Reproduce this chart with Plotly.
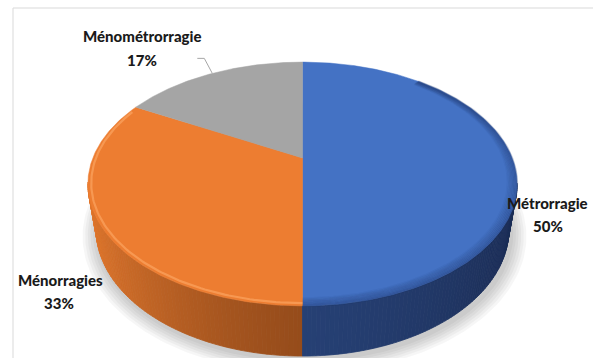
import numpy as np
import plotly.graph_objects as go

# --- data ---------------------------------------------------------------
labels = ["Métrorragie", "Ménorragies", "Ménométrorragie"]
values = [50, 33, 17]
top_colors = ["#4472C4", "#ED7D31", "#A5A5A5"]
# side-wall colours: (front-facing shade, side-facing shade)
side_colors = [((38, 64, 116), (27, 44, 84)),
               ((150, 76, 27), (228, 121, 46)),
               ((120, 120, 120), (150, 150, 150))]

# --- 3-D pie camera ------------------------------------------------------
W, H = 593, 358
TILT = np.radians(33.7)
DIST = 3.904
FOCAL = 818.7
APEX_X, APEX_Y = 302.5, 158.0
THICK = 0.27
S, C = np.sin(TILT), np.cos(TILT)


def project(theta, y=0.0, r=1.0):
    """Project a point of the pie (angle clockwise from 12 o'clock)."""
    X = r * np.sin(theta)
    Z = r * np.cos(theta)
    d = DIST + Z * C - y * S
    return APEX_X + FOCAL * X / d, APEX_Y - FOCAL * (y * C + Z * S) / d


fig = go.Figure()


def add_poly(xs, ys, color, lw=0.8):
    fig.add_trace(go.Scatter(
        x=list(xs), y=list(ys), mode="lines", fill="toself",
        fillcolor=color, line=dict(color=color, width=lw),
        hoverinfo="skip", showlegend=False))


def rgb(c):
    return "rgb(%d,%d,%d)" % tuple(int(round(v)) for v in c)


fractions = np.array(values, dtype=float) / sum(values)
edges = np.concatenate([[0.0], np.cumsum(fractions)]) * 2 * np.pi

# soft drop shadow under the pie
full = np.linspace(0, 2 * np.pi, 241)
for k in range(6):
    sx, sy = project(full, -THICK, 1.0 + 0.012 * (k + 1))
    add_poly(sx + 2, sy + 3, "rgba(0,0,0,0.035)", lw=0)

# side walls, painted back to front
strips = []
for i in range(len(values)):
    a, b = edges[i], edges[i + 1]
    n = max(int(np.degrees(b - a)), 2)
    ts = np.linspace(a, b, n + 1)
    for t0, t1 in zip(ts[:-1], ts[1:]):
        tm = 0.5 * (t0 + t1)
        if np.cos(tm) < -0.2:
            strips.append((np.cos(tm), i, t0, t1, tm))
strips.sort(key=lambda s: -s[0])
for z, i, t0, t1, tm in strips:
    front, side = side_colors[i]
    k = min(abs(np.sin(tm)), 1.0) ** 1.3
    col = [front[j] + (side[j] - front[j]) * k for j in range(3)]
    x0t, y0t = project(t0)
    x1t, y1t = project(t1)
    x0b, y0b = project(t0, -THICK)
    x1b, y1b = project(t1, -THICK)
    add_poly([x0t, x1t, x1b, x0b, x0t], [y0t, y1t, y1b, y0b, y0t], rgb(col))

# top faces
for i in range(len(values)):
    a, b = edges[i], edges[i + 1]
    ts = np.linspace(a, b, max(int(np.degrees(b - a)) * 2, 4))
    rx, ry = project(ts)
    add_poly(np.concatenate([[APEX_X], rx, [APEX_X]]),
             np.concatenate([[APEX_Y], ry, [APEX_Y]]), top_colors[i], lw=0.5)

# bevel: darker rim shading on the blue slice, light rim on the orange one
tb = np.linspace(np.radians(40), np.pi, 120)
for k in range(8):
    bx, by = project(tb, 0.0, 1.0 - 0.006 * k)
    fig.add_trace(go.Scatter(x=bx, y=by, mode="lines",
                             line=dict(color="rgba(25,45,95,%.2f)" % (0.26 - 0.03 * k), width=2),
                             hoverinfo="skip", showlegend=False))
to = np.linspace(np.pi, edges[2] - 0.05, 120)
hx, hy = project(to, 0.0, 0.985)
fig.add_trace(go.Scatter(x=hx, y=hy, mode="lines",
                         line=dict(color="rgba(255,175,110,0.55)", width=2.2),
                         hoverinfo="skip", showlegend=False))

# leader line for the small slice
gmid = 0.5 * (edges[2] + edges[3])
lx, ly = project(gmid)
fig.add_trace(go.Scatter(x=[lx - 15, lx - 8, lx], y=[ly - 15, ly - 15, ly],
                         mode="lines", line=dict(color="#A6A6A6", width=1),
                         hoverinfo="skip", showlegend=False))

# data labels
label_pos = [(547, 203, 548, 226), (60, 280, 59, 303), (142, 36, 142, 60)]
FONT = dict(family="Lato", size=15, color="#1a1a1a", weight=900)
for i, (nx, ny, px, py) in enumerate(label_pos):
    fig.add_annotation(x=nx, y=ny, text=labels[i], showarrow=False,
                       font=FONT, xanchor="center", yanchor="middle")
    fig.add_annotation(x=px, y=py, text="%d%%" % values[i], showarrow=False,
                       font=FONT, xanchor="center", yanchor="middle")

# chart-area frame
fig.add_shape(type="line", x0=13, y0=8, x1=W, y1=8, line=dict(color="#D9D9D9", width=1))
fig.add_shape(type="line", x0=13, y0=8, x1=13, y1=H, line=dict(color="#D9D9D9", width=1))

fig.update_layout(
    width=W, height=H, autosize=False,
    margin=dict(l=0, r=0, t=0, b=0),
    paper_bgcolor="white", plot_bgcolor="white",
    xaxis=dict(range=[0, W], visible=False, fixedrange=True),
    yaxis=dict(range=[H, 0], visible=False, fixedrange=True),
    showlegend=False,
)

fig.write_html("out.html")
